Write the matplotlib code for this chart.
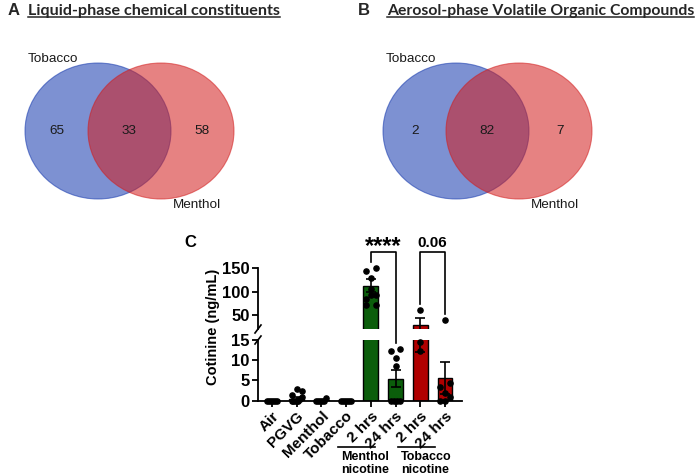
import numpy as np
import matplotlib
matplotlib.use("Agg")
import matplotlib.pyplot as plt
from matplotlib.patches import Ellipse
from matplotlib.lines import Line2D

plt.rcParams['font.family'] = ['Liberation Sans', 'DejaVu Sans']

# panels A and B: overlap counts (tobacco only, both, menthol only)
venn_labels = ["Tobacco", "Menthol"]
liquid_counts = [65, 33, 58]
aerosol_counts = [2, 82, 7]
title_a = "Liquid-phase chemical constituents"
title_b = "Aerosol-phase Volatile Organic Compounds"

# panel C: cotinine
groups = ["Air", "PGVG", "Menthol", "Tobacco", "2 hrs", "24 hrs", "2 hrs", "24 hrs"]
means = [0, 0.5, 0.1, 0, 113, 5.4, 28, 5.6]
sems = [0, 0.3, 0.1, 0, 14, 2.1, 16, 4.0]
points = [
    [0, 0, 0, 0, 0, 0],
    [3.0, 2.3, 1.5, 1.0, 0.5, 0, 0, 0, 0, 0],
    [0.7, 0, 0, 0, 0, 0],
    [0, 0, 0, 0, 0, 0],
    [150, 145, 130, 106, 92, 92, 85, 71, 71],
    [12.7, 12.2, 10.6, 8.6, 0, 0, 0, 0],
    [60, 14.5, 12.4],
    [39, 4.4, 3.5, 2, 1, 0, 0],
]
green, red = "#0b5e0b", "#b00000"
bar_colors = ["white"] * 4 + [green, green, red, red]
brackets = [(4, 5, "****"), (6, 7, "0.06")]
nicotine_labels = ["Menthol\nnicotine", "Tobacco\nnicotine"]

W, H = 700, 476
fig = plt.figure(figsize=(7, 4.76), dpi=100)


def venn(left, counts):
    ax = fig.add_axes([left / W, 1 - 215 / H, 220 / W, 165 / H])
    ax.set_xlim(0, 220)
    ax.set_ylim(165, 0)
    ax.axis('off')
    cl, cr, cy = 78, 141, 81
    ax.add_patch(Ellipse((cl, cy), 146, 136, fc="#1337ad", ec="#1337ad", alpha=0.55, lw=0.8))
    ax.add_patch(Ellipse((cr, cy), 146, 136, fc="#d21c1c", ec="#d21c1c", alpha=0.55, lw=0.8))
    for xx, n in zip([cl - 41, (cl + cr) / 2, cr + 41], counts):
        ax.text(xx, cy, str(n), ha='center', va='center', fontsize=9.7, color='#1a1a1a')
    ax.text(cl - 70, cy - 72, venn_labels[0], ha='left', va='center', fontsize=9.7, color='#1a1a1a')
    ax.text(cr + 12, cy + 74, venn_labels[1], ha='left', va='center', fontsize=9.7, color='#1a1a1a')


venn(20, liquid_counts)
venn(378, aerosol_counts)

titles = []
for lx, tx, letter, title, fs in [(8, 28, "A", title_a, 11.6), (358, 387, "B", title_b, 11.35)]:
    fig.text(lx / W, 1 - 15 / H, letter, fontsize=12, fontweight='bold', va='baseline', color='#262626')
    titles.append(fig.text(tx / W, 1 - 15 / H, title, fontsize=fs, fontweight='bold',
                           family='Lato', va='baseline', color='#262626'))

# broken y axis: two stacked axes
ax_top = fig.add_axes([258 / W, 147 / H, 204 / W, 60.7 / H])
ax_bot = fig.add_axes([258 / W, 75.3 / H, 204 / W, 60.7 / H])
x = np.arange(len(groups))
for ax in (ax_top, ax_bot):
    ax.bar(x, means, width=0.6, color=bar_colors, edgecolor='black', linewidth=1, zorder=2)
    ax.errorbar(x, means, yerr=sems, fmt='none', ecolor='black', elinewidth=1.2,
                capsize=3.5, capthick=1.2, zorder=3)
    ax.set_xlim(-0.567, 7.69)
    for s in ('top', 'right'):
        ax.spines[s].set_visible(False)
    for s in ('left', 'bottom'):
        ax.spines[s].set_linewidth(1.3)
    ax.tick_params(width=1.3, length=4, labelsize=12, pad=2)
ax_top.set_ylim(20, 150)
ax_top.set_yticks([50, 100, 150])
ax_top.spines['bottom'].set_visible(False)
ax_top.set_xticks([])
ax_bot.set_ylim(0, 15)
ax_bot.set_yticks([0, 5, 10, 15])
ax_bot.set_xticks(x)
ax_bot.set_xticklabels(groups, rotation=45, ha='right', rotation_mode='anchor',
                       fontsize=11, fontweight='bold')
for ax in (ax_top, ax_bot):
    for lab in ax.get_yticklabels():
        lab.set_fontweight('bold')


def swarm(vals):
    vals = np.asarray(vals, float)
    order = np.argsort(vals)
    clusters = []
    for i in order:
        tol = 1.2 if vals[i] < 20 else 10
        if clusters and vals[i] - vals[clusters[-1][0]] < tol:
            clusters[-1].append(i)
        else:
            clusters.append([i])
    offs = np.zeros(len(vals))
    for c in clusters:
        n = len(c)
        step = min(0.4 / (n - 1), 0.45) if n > 1 else 0
        for k, i in enumerate(c):
            offs[i] = (k - (n - 1) / 2) * step
    return offs


for g, vals in enumerate(points):
    vals = np.asarray(vals, float)
    xs = g + swarm(vals)
    hi = vals >= 20
    ax_top.scatter(xs[hi], vals[hi], s=14, color='black', zorder=4, clip_on=False)
    ax_bot.scatter(xs[~hi], vals[~hi], s=14, color='black', zorder=4, clip_on=False)

inv = fig.transFigure.inverted()


def fy(ax, v):
    return inv.transform(ax.transData.transform((0, v)))[1]


def fx(xv):
    return inv.transform(ax_bot.transData.transform((xv, 0)))[0]


# break marks
sx = fx(-0.567)
for yy in (fy(ax_top, 20), fy(ax_bot, 15)):
    fig.add_artist(Line2D([sx - 3 / W, sx + 3 / W], [yy - 4 / H, yy + 4 / H], color='black', lw=1.2))

fig.text(213 / W, 1 - 327 / H, "Cotinine (ng/mL)", rotation=90, ha='center', va='center',
         fontsize=10.5, fontweight='bold')
fig.text(190 / W, 1 - 243 / H, "C", ha='center', va='center', fontsize=12, fontweight='bold')

# significance brackets
btop = fy(ax_top, 150) + 16 / H
for a, b, label in brackets:
    legs = []
    for g in (a, b):
        v = max(max(points[g]), means[g] + sems[g])
        legs.append(fy(ax_top if v >= 20 else ax_bot, v) + 6 / H)
    fig.add_artist(Line2D([fx(a), fx(a), fx(b), fx(b)], [legs[0], btop, btop, legs[1]],
                          color='black', lw=1.2))
    if label.startswith('*'):
        fig.text((fx(a) + fx(b)) / 2, btop - 1 / H, label, ha='center', va='baseline',
                 fontsize=17, fontweight='bold')
    else:
        fig.text((fx(a) + fx(b)) / 2, btop + 5 / H, label, ha='center', va='baseline',
                 fontsize=11, fontweight='bold')

# second-level group labels
for (l0, l1), label in zip([(338, 375), (398, 435)], nicotine_labels):
    fig.add_artist(Line2D([l0 / W, l1 / W], [1 - 447 / H] * 2, color='black', lw=1.2))
    fig.text((l0 + 3) / W, 1 - 451 / H, label, ha='left', va='top', fontsize=9,
             fontweight='bold', linespacing=1.1)

# underline the panel titles
fig.canvas.draw()
r = fig.canvas.get_renderer()
for t in titles:
    bb = t.get_window_extent(r)
    yb = bb.y0 + 1
    fig.add_artist(Line2D([bb.x0 / W, bb.x1 / W], [yb / H] * 2, color='#262626', lw=1.1))

fig.savefig("out.png", dpi=100)
